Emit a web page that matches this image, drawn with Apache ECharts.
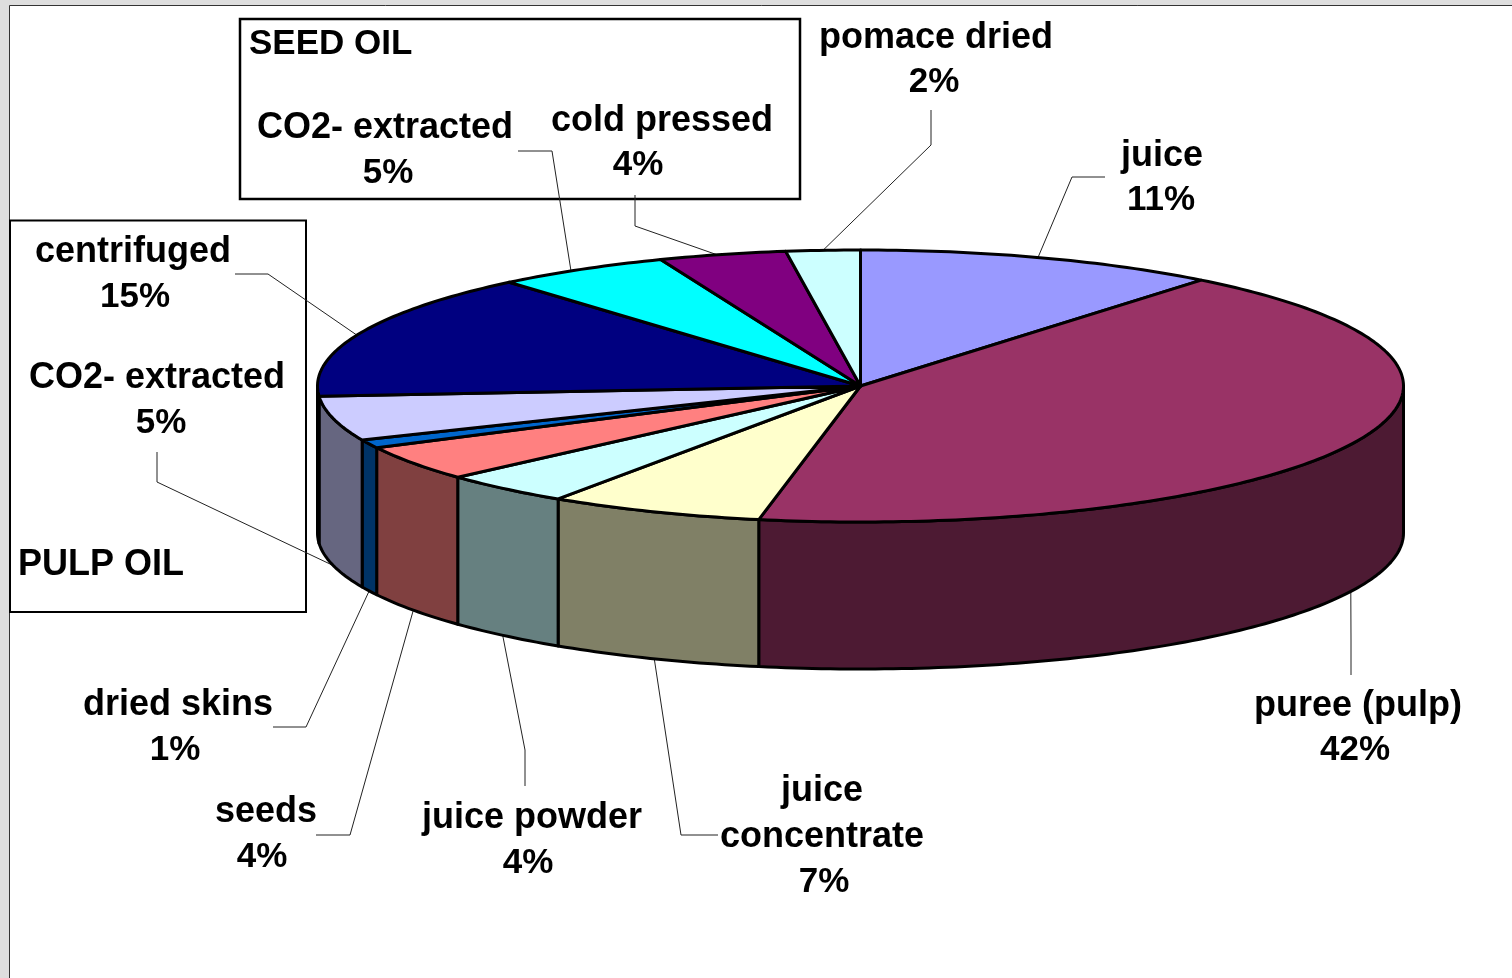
<!DOCTYPE html>
<html lang="en">
<head>
    <meta charset="UTF-8">
    <title>Sea buckthorn products</title>
    <script src="https://cdn.jsdelivr.net/npm/echarts@6/dist/echarts.min.js"></script>
    <style>
        html, body { margin: 0; padding: 0; background: #fff; }
        #main { width: 1512px; height: 978px; }
    </style>
</head>
<body>
<div id="main"></div>

<script>
    // clockwise from 12 o'clock
    var categories = ['juice', 'puree (pulp)', 'juice\nconcentrate', 'juice powder', 'seeds', 'dried skins',
        'CO2- extracted', 'centrifuged', 'CO2- extracted', 'cold pressed', 'pomace dried'];
    var percentLabels = ['11%', '42%', '7%', '4%', '4%', '1%', '5%', '15%', '5%', '4%', '2%'];
    // slice sizes as measured on the drawing (the printed labels are rounded)
    var sliceShare = [10.8, 42.2, 6.4, 3.9, 4.2, 1.0, 5.3, 15.0, 5.2, 3.8, 2.2];

    var topColors = ['#9999ff', '#993366', '#ffffcc', '#ccffff', '#ff8080', '#0066cc',
        '#ccccff', '#000080', '#00ffff', '#800080', '#ccffff'];
    var wallColors = ['#4d4d80', '#4d1a33', '#808066', '#668080', '#804040', '#003366',
        '#666680', '#000040', '#008080', '#400040', '#668080'];

    // pie geometry in pixels
    var cx = 860.5, cy = 386, rx = 543, ry = 136, depth = 147;
    var FONT = 'bold 36px "Liberation Sans", Arial, sans-serif';
    var PCT_FONT = 'bold 35px "Liberation Sans", Arial, sans-serif';

    // name x,y  percent x,y  leader start, leader elbow, nudge of the leader tip along the rim (share units)
    var labelLayout = [
        [1162, 156, 1161, 200, [1105, 177], [1072, 177], -0.1],
        [1358, 706, 1355, 750, [1351, 675], [1351, 640], 0.17],
        [822, 814, 824, 882, [718, 835], [681, 835], 0],
        [532, 818, 528, 863, [525, 786], [525, 750], 0.1],
        [266, 812, 262, 857, [316, 835], [350, 835], 0],
        [178, 705, 175, 750, [273, 727], [306, 727], 0],
        [157, 378, 161, 423, [157, 452], [157, 482], 0],
        [133, 252, 135, 297, [235, 274], [268, 274], -0.2],
        [385, 128, 388, 173, [518, 151], [552, 151], -0.35],
        [662, 121, 638, 165, [635, 195], [635, 226], -0.15],
        [936, 38, 934, 82, [931, 110], [931, 145], 0]
    ];

    var starts = [], total = 0;
    for (var i = 0; i < sliceShare.length; i++) {
        starts.push(total);
        total += sliceShare[i];
    }
    var seriesData = sliceShare.map(function (v, i) {
        return [starts[i], starts[i] + v];
    });

    function toRad(pct) {
        return pct / total * Math.PI * 2;
    }
    function rim(a, drop) {
        return [cx + rx * Math.sin(a), cy + (drop || 0) - ry * Math.cos(a)];
    }
    function arc(a0, a1, drop) {
        var pts = [];
        var n = Math.max(2, Math.ceil((a1 - a0) * 60));
        for (var k = 0; k <= n; k++) {
            pts.push(rim(a0 + (a1 - a0) * k / n, drop));
        }
        return pts;
    }

    function renderTop(params, api) {
        var a0 = toRad(api.value(0)), a1 = toRad(api.value(1));
        return {
            type: 'polygon',
            shape: { points: [[cx, cy]].concat(arc(a0, a1)) },
            style: { fill: topColors[params.dataIndex], stroke: '#000', lineWidth: 3, lineJoin: 'round' }
        };
    }

    // only the front half of the rim shows a wall
    function renderWall(params, api) {
        var a0 = Math.max(toRad(api.value(0)), Math.PI / 2);
        var a1 = Math.min(toRad(api.value(1)), Math.PI * 1.5);
        if (a1 <= a0) {
            return null;
        }
        return {
            type: 'polygon',
            shape: { points: arc(a0, a1).concat(arc(a0, a1, depth).reverse()) },
            style: { fill: wallColors[params.dataIndex], stroke: '#000', lineWidth: 3, lineJoin: 'round' }
        };
    }

    function renderLeader(params, api) {
        var l = labelLayout[params.dataIndex];
        var mid = toRad((api.value(0) + api.value(1)) / 2 + l[6]);
        var front = Math.cos(mid) < 0;
        return {
            type: 'polyline',
            shape: { points: [l[4], l[5], rim(mid, front ? depth : 0)] },
            style: { fill: null, stroke: '#222', lineWidth: 1 }
        };
    }

    function renderLabel(params) {
        var i = params.dataIndex, l = labelLayout[i];
        var base = { fill: '#000', align: 'center', verticalAlign: 'middle', lineHeight: 46 };
        return {
            type: 'group',
            children: [
                { type: 'text', style: Object.assign({ text: categories[i], x: l[0], y: l[1], font: FONT }, base) },
                { type: 'text', style: Object.assign({ text: percentLabels[i], x: l[2], y: l[3], font: PCT_FONT }, base) }
            ]
        };
    }

    var chart = echarts.init(document.getElementById('main'));
    var option = {
        animation: false,
        backgroundColor: '#fff',
        graphic: [
            { type: 'rect', z: 0, silent: true, shape: { x: 0, y: 0, width: 1512, height: 978 }, style: { fill: '#dedede' } },
            { type: 'rect', z: 0, silent: true, shape: { x: 9.5, y: 5.5, width: 1520, height: 990 }, style: { fill: '#fff', stroke: '#333', lineWidth: 1 } },
            { type: 'rect', z: 1, silent: true, shape: { x: 240, y: 19, width: 560, height: 180 }, style: { fill: '#fff', stroke: '#000', lineWidth: 2.5 } },
            { type: 'rect', z: 1, silent: true, shape: { x: 10, y: 220.5, width: 296, height: 391.5 }, style: { fill: '#fff', stroke: '#000', lineWidth: 2 } },
            { type: 'text', z: 6, silent: true, style: { text: 'SEED OIL', x: 249, y: 44, fill: '#000', font: PCT_FONT, verticalAlign: 'middle' } },
            { type: 'text', z: 6, silent: true, style: { text: 'PULP OIL', x: 18, y: 565, fill: '#000', font: FONT, verticalAlign: 'middle' } }
        ],
        series: [
            { type: 'custom', coordinateSystem: 'none', silent: true, z: 2, renderItem: renderLeader, data: seriesData },
            { type: 'custom', coordinateSystem: 'none', silent: true, z: 3, renderItem: renderWall, data: seriesData },
            { type: 'custom', coordinateSystem: 'none', silent: true, z: 4, renderItem: renderTop, data: seriesData },
            { type: 'custom', coordinateSystem: 'none', silent: true, z: 5, renderItem: renderLabel, data: seriesData }
        ]
    };
    chart.setOption(option);
</script>
</body>
</html>
